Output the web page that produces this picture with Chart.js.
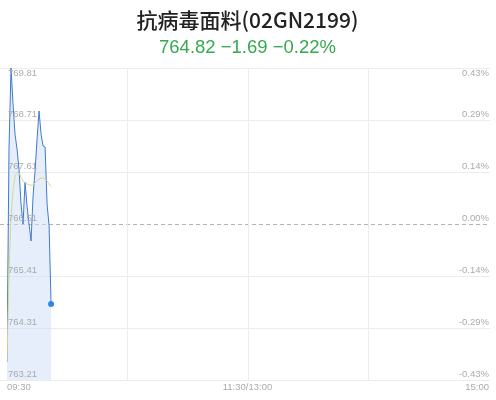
<!DOCTYPE html>
<html>
<head>
<meta charset="utf-8">
<script src="https://cdn.jsdelivr.net/npm/chart.js@4"></script>
<style>
  html, body { margin: 0; padding: 0; background: #fff; }
  #wrap { width: 496px; height: 400px; }
</style>
</head>
<body>
<div id="wrap"><canvas id="chart"></canvas></div>
<script>
var stockName = "抗病毒面料(02GN2199)";
var quoteLine = "764.82 \u22121.69 \u22120.22%";
var prevClose = 766.51;

// minute times of the trading day so far
var times = ["09:30", "09:31", "09:32", "09:33", "09:34", "09:35", "09:36", "09:37",
    "09:38", "09:39", "09:40", "09:41", "09:42", "09:43", "09:44", "09:45",
    "09:46", "09:47", "09:48", "09:49", "09:50", "09:51", "09:52"];
var prices = [763.59, 768.10, 769.81, 769.05, 768.41, 768.10, 767.67, 766.93,
    766.51, 767.40, 766.89, 766.51, 766.15, 767.10, 767.63, 768.31,
    768.90, 768.41, 768.16, 768.14, 766.93, 766.47, 764.82];
var avgPrices = [763.59, 765.40, 766.60, 767.20, 767.50, 767.60, 767.58, 767.50,
    767.42, 767.38, 767.36, 767.34, 767.33, 767.34, 767.38, 767.42,
    767.46, 767.48, 767.48, 767.46, 767.42, 767.36, 767.30];

var yTicks = [769.81, 768.71, 767.61, 766.51, 765.41, 764.31, 763.21];
var yTickLabels = ["769.81", "768.71", "767.61", "766.51", "765.41", "764.31", "763.21"];
var pctTickLabels = ["0.43%", "0.29%", "0.14%", "0.00%", "-0.14%", "-0.29%", "-0.43%"];
var xTicks = [0, 120, 240];
var xTickLabels = ["09:30", "11:30/13:00", "15:00"];
var xGrid = [60, 120, 180];

function MinuteOf(t) {
    var h = parseInt(t.substr(0, 2));
    var m = parseInt(t.substr(3, 2));
    var n = h * 60 + m - (9 * 60 + 30);
    if (n > 120) {
        n = n - 90;
    }
    return n;
}

function MakePoints(values) {
    var pts = [];
    for (let i = 0; i < values.length; i++) {
        pts.push({ x: MinuteOf(times[i]), y: values[i] });
    }
    return pts;
}

const gridPlugin = {
    id: 'gridPlugin',
    beforeDatasetsDraw(chart) {
        const ctx = chart.ctx;
        const xs = chart.scales.x;
        const ys = chart.scales.y;
        const area = chart.chartArea;
        ctx.save();
        ctx.lineWidth = 1;
        // horizontal lines
        yTicks.forEach(v => {
            var y = Math.round(ys.getPixelForValue(v)) + 0.5;
            ctx.beginPath();
            if (v == prevClose) {
                ctx.strokeStyle = '#b4b4b4';
                ctx.setLineDash([4, 3]);
            } else {
                ctx.strokeStyle = '#ececec';
                ctx.setLineDash([]);
            }
            ctx.moveTo(0, y);
            ctx.lineTo(area.right + 2, y);
            ctx.stroke();
        });
        ctx.setLineDash([]);
        ctx.strokeStyle = '#ececec';
        xGrid.forEach(m => {
            var x = Math.round(xs.getPixelForValue(m)) + 0.5;
            ctx.beginPath();
            ctx.moveTo(x, area.top);
            ctx.lineTo(x, area.bottom);
            ctx.stroke();
        });
        ctx.restore();
    },
    afterDatasetsDraw(chart) {
        const ctx = chart.ctx;
        const xs = chart.scales.x;
        const ys = chart.scales.y;
        const area = chart.chartArea;
        ctx.save();
        ctx.font = '9.5px "Liberation Sans", Arial, sans-serif';
        ctx.fillStyle = '#ababab';
        for (let i = 0; i < yTicks.length; i++) {
            var y = ys.getPixelForValue(yTicks[i]);
            var ly = y - 6;
            if (i == 0) {
                ly = y + 5;
            }
            ctx.textBaseline = 'middle';
            ctx.textAlign = 'left';
            ctx.fillText(yTickLabels[i], area.left + 1, ly);
            ctx.textAlign = 'right';
            ctx.fillText(pctTickLabels[i], area.right + 1, ly);
        }
        ctx.textBaseline = 'middle';
        for (let i = 0; i < xTicks.length; i++) {
            var x = xs.getPixelForValue(xTicks[i]);
            if (i == 0) {
                ctx.textAlign = 'left';
            } else if (i == xTicks.length - 1) {
                ctx.textAlign = 'right';
                x = x + 1;
            } else {
                ctx.textAlign = 'center';
            }
            ctx.fillText(xTickLabels[i], x, area.bottom + 7);
        }
        ctx.restore();
    }
};

const data = {
    datasets: [{
        label: 'price',
        data: MakePoints(prices),
        borderColor: '#3f7ad0',
        borderWidth: 1,
        backgroundColor: 'rgba(205,222,248,0.5)',
        fill: 'start',
        tension: 0,
        pointRadius: function (c) { return c.dataIndex == prices.length - 1 ? 3 : 0; },
        pointBackgroundColor: '#2f86e8',
        pointBorderWidth: 0,
        order: 2
    }, {
        label: 'avg',
        data: MakePoints(avgPrices),
        borderColor: '#d6d68a',
        borderWidth: 1,
        fill: false,
        tension: 0.4,
        pointRadius: 0,
        order: 1
    }]
};

const config = {
    type: 'line',
    data: data,
    plugins: [gridPlugin],
    options: {
        responsive: false,
        animation: false,
        layout: { padding: { left: 7, right: 8, top: 0, bottom: 20 } },
        plugins: {
            legend: { display: false },
            tooltip: { enabled: false },
            title: {
                display: true,
                text: stockName,
                color: '#222222',
                font: { family: '"Noto Sans CJK SC", sans-serif', size: 21, weight: 500 },
                padding: { top: 7, bottom: 0 }
            },
            subtitle: {
                display: true,
                text: quoteLine,
                color: '#35a94f',
                font: { family: '"Liberation Sans", Arial, sans-serif', size: 18.5, weight: 'normal' },
                padding: { top: 5, bottom: 8.6 }
            }
        },
        scales: {
            x: {
                type: 'linear',
                display: false,
                min: 0,
                max: 240
            },
            y: {
                display: false,
                min: yTicks[yTicks.length - 1],
                max: yTicks[0]
            }
        }
    }
};

const canvas = document.getElementById("chart");
canvas.width = 496;
canvas.height = 400;
new Chart(canvas, config);
</script>
</body>
</html>
